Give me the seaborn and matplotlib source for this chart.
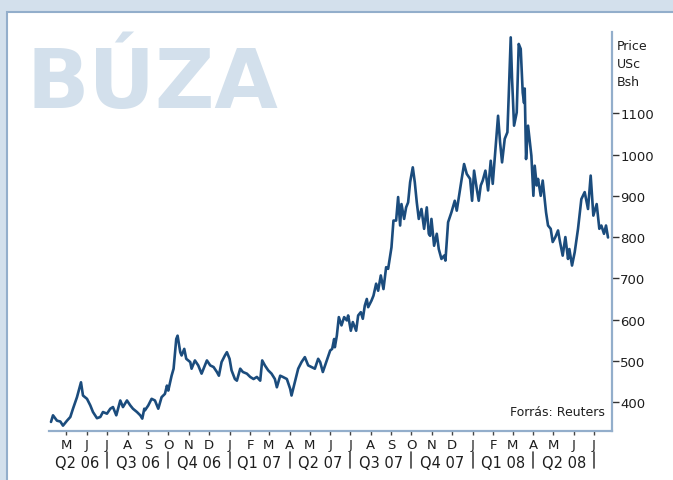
import pandas as pd
import matplotlib.pyplot as plt
from matplotlib.patches import Rectangle
from matplotlib.transforms import blended_transform_factory
import seaborn as sns

# wheat price, US cents per bushel
start_date = '2006-04-05'
day_offsets = [
    3, 6, 12, 17, 21, 27, 32, 36, 42, 44, 48, 51, 57, 62, 66, 72, 77, 81, 87, 92,
    96, 101, 107, 111, 117, 122, 126, 132, 137, 140, 143,
    144, 149, 154, 159, 164, 169, 174, 177, 179, 184, 187, 191, 193, 197, 199, 203,
    206, 212, 214, 219, 224, 229, 234, 237, 242, 247, 252, 255, 259, 264, 267, 271,
    274, 279, 282,
    287, 291, 297, 302, 307, 312, 317, 320, 324, 329, 334, 339, 342, 347, 351, 357,
    362, 364, 369, 374, 379, 384, 389, 394, 399, 404, 407, 411, 417, 422, 425, 428,
    429, 432, 435, 439, 443, 447, 449, 453, 456, 461, 464, 468, 471, 474, 477, 479,
    484, 487, 491, 494, 498, 502, 506, 509, 514, 517, 521, 524, 527, 529, 533, 536,
    539, 542, 546, 549, 552, 555, 559, 563, 567, 570,
    572, 574, 578, 582, 585, 589, 593, 595, 599, 604, 609, 612, 617, 619, 623, 627,
    632, 635, 638, 642, 645, 648, 651, 655, 659, 663, 666, 670, 674, 677, 680, 684,
    688, 690, 693, 695, 698, 702, 705, 708, 711,
    713, 714, 716, 719, 724, 727, 729, 732, 734, 738, 741, 746, 749, 753, 756, 760,
    764, 767, 771, 775, 779, 781, 785, 789, 794, 799, 804, 809, 813, 817, 822, 826,
    829, 833, 836, 839,
]
price = [
    352, 368, 355, 353, 343, 355, 364, 384, 412, 424, 448, 416, 408, 392, 376, 361,
    364, 376, 372, 384, 388, 368, 404, 388, 404, 392, 384, 376, 368, 360, 384,
    380, 392, 408, 404, 384, 412, 420, 440, 428, 464, 481, 553, 561, 521, 513, 529,
    505, 497, 481, 501, 489, 469, 489, 501, 489, 485, 473, 464, 497, 513, 521, 505,
    477, 456, 452,
    481, 473, 469, 461, 456, 461, 452, 501, 489, 477, 469, 456, 436, 464, 461, 456,
    432, 416, 448, 481, 497, 509, 489, 485, 481, 505, 497, 473, 501, 525, 529, 553,
    533, 561, 606, 586, 606, 598, 610, 573, 594, 573, 610, 618, 602, 634, 650, 630,
    646, 658, 687, 670, 707, 674, 727, 723, 775, 840, 840, 897, 828, 880, 844, 872,
    884, 933, 969, 933, 884, 844, 868, 820, 872, 808,
    803, 844, 779, 808, 771, 747, 755, 743, 836, 860, 888, 864, 917, 937, 977, 953,
    941, 888, 961, 917, 888, 925, 937, 961, 913, 985, 929, 1013, 1094, 1030, 981, 1038,
    1054, 1143, 1284, 1183, 1070, 1102, 1268, 1256, 1150,
    1125, 1160, 989, 1070, 997, 900, 973, 925, 941, 900, 937, 860, 828, 820, 788, 800,
    816, 788, 755, 800, 747, 771, 731, 763, 820, 892, 909, 868, 949, 852, 880, 820,
    828, 808, 828, 799,
]
month_letters = ['M', 'J', 'J', 'A', 'S', 'O', 'N', 'D', 'J', 'F', 'M', 'A',
                 'M', 'J', 'J', 'A', 'S', 'O', 'N', 'D', 'J', 'F', 'M', 'A',
                 'M', 'J', 'J']
quarter_labels = ['Q2 06', 'Q3 06', 'Q4 06', 'Q1 07', 'Q2 07',
                  'Q3 07', 'Q4 07', 'Q1 08', 'Q2 08']
y_ticks = [400, 500, 600, 700, 800, 900, 1000, 1100]

df = pd.DataFrame({
    'date': pd.Timestamp(start_date) + pd.to_timedelta(day_offsets, unit='D'),
    'price': price,
})

sns.set_style('white')
plt.rcParams['font.family'] = ['DejaVu Sans']

bg = '#d3e0ec'
frame = '#93aecb'
text_col = '#1e1e1e'

fig = plt.figure(figsize=(6.73, 4.81), dpi=100, facecolor=bg)
fig.patches.append(Rectangle((7 / 673, -0.1), 1.2, 1.1 - 13 / 481,
                             transform=fig.transFigure, facecolor='white',
                             edgecolor=frame, lw=1.5, zorder=-10))

fig.text(26 / 673, 1 - 108 / 481, 'BÚZA', fontsize=59, fontweight='bold',
         color=bg, ha='left', va='baseline', zorder=5)

ax = fig.add_axes([49 / 673, 1 - 432 / 481, 563 / 673, 399 / 481])
ax.set_facecolor('none')

sns.lineplot(data=df, x='date', y='price', ax=ax, color='#1b4c7d', lw=1.9)

ax.set_xlim(pd.Timestamp(start_date), pd.Timestamp(start_date) + pd.Timedelta(days=845))
ax.set_ylim(330, 1297)
ax.set_xlabel('')
ax.set_ylabel('')

for s in ['left', 'top']:
    ax.spines[s].set_visible(False)
for s in ['right', 'bottom']:
    ax.spines[s].set_color(frame)
    ax.spines[s].set_linewidth(1.6)

ax.yaxis.tick_right()
ax.set_yticks(y_ticks)
ax.set_yticklabels([str(v) for v in y_ticks])
ax.tick_params(axis='y', direction='out', length=5, width=1, color='#333333',
               labelsize=9.5, labelcolor=text_col, pad=1, right=True, left=False)

month_starts = pd.date_range('2006-05-01', '2008-07-01', freq='MS')
ax.set_xticks(month_starts)
ax.set_xticklabels(month_letters)
ax.tick_params(axis='x', direction='out', length=3, width=1, color='#444444',
               labelsize=9.5, labelcolor=text_col, pad=2, bottom=True)

# quarter labels with separators
trans = blended_transform_factory(ax.transData, ax.transAxes)
q_edges = pd.date_range('2006-04-01', '2008-07-01', freq='QS')
for i, lab in enumerate(quarter_labels):
    mid = q_edges[i] + (q_edges[i + 1] - q_edges[i]) / 2
    ax.text(mid, -0.078, lab, transform=trans, ha='center', va='center',
            fontsize=10.5, color=text_col, clip_on=False)
    ax.plot([q_edges[i + 1]] * 2, [-0.053, -0.093], transform=trans,
            color='#444444', lw=1.2, clip_on=False)

# unit label
for k, word in enumerate(['Price', 'USc', 'Bsh']):
    fig.text(617 / 673, 1 - (47 + 17.5 * k) / 481, word, fontsize=9,
             color=text_col, ha='left', va='center')

ax.text(0.988, 0.048, 'Forrás: Reuters', transform=ax.transAxes,
        ha='right', va='center', fontsize=9, color=text_col)

fig.savefig('out.png', dpi=100, facecolor=bg)
